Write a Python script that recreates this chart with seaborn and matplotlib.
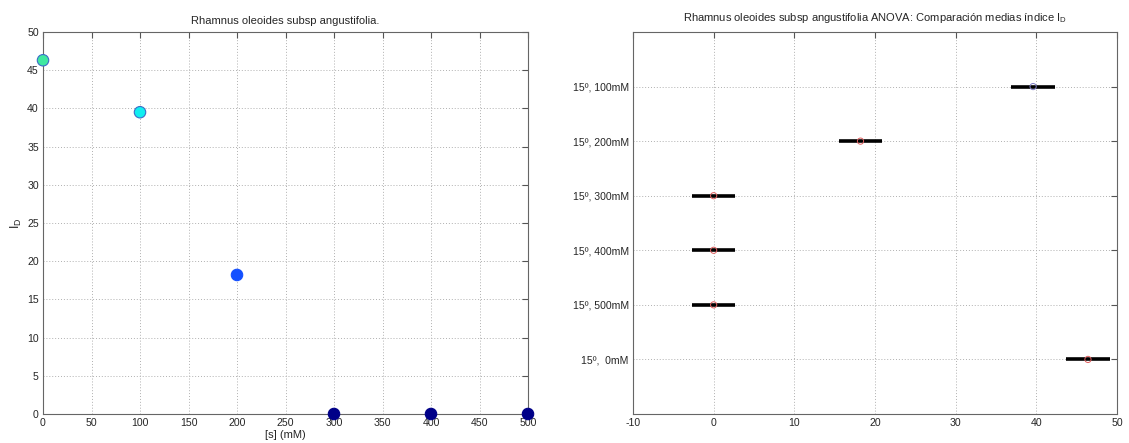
import numpy as np
import pandas as pd
import matplotlib
matplotlib.use("Agg")
import matplotlib.pyplot as plt
import seaborn as sns

sns.set_style("white")
plt.rcParams['font.family'] = ['Liberation Sans', 'DejaVu Sans']
plt.rcParams['axes.unicode_minus'] = False

# Left panel data
salt_mM = [0, 100, 200, 300, 400, 500]
id_values = [46.3, 39.5, 18.2, 0.0, 0.0, 0.0]
point_colors = ["#40e8a0", "#10eef0", "#1450ff", "#000088", "#000088", "#000088"]
edge_colors = ["#3a6cc8", "#3a6cc8", "#1450ff", "#000088", "#000088", "#000088"]

# Right panel data (ANOVA multiple comparison)
groups = ["15º,  0mM", "15º, 500mM", "15º, 400mM", "15º, 300mM", "15º, 200mM", "15º, 100mM"]
group_means = [46.4, 0.0, 0.0, 0.0, 18.2, 39.6]
half_width = [2.7, 2.7, 2.7, 2.7, 2.7, 2.7]
mean_marker_colors = ["#e06060", "#e06060", "#e06060", "#e06060", "#e06060", "#8080c8"]

fig = plt.figure(figsize=(11.29, 4.43), dpi=100)
ax1 = fig.add_axes([43/1129, 29/443, 485/1129, 382/443])
ax2 = fig.add_axes([633/1129, 29/443, 484/1129, 382/443])

gridkw = dict(color="#b0b0b0", linestyle=(0, (1, 2)), linewidth=0.7)

# Left
df1 = pd.DataFrame({"s": salt_mM, "ID": id_values, "c": [str(i) for i in range(len(salt_mM))]})
sns.scatterplot(data=df1, x="s", y="ID", hue="c", palette=point_colors, s=68,
                edgecolor=edge_colors, linewidth=0.8, legend=False, ax=ax1, clip_on=False, zorder=3)
ax1.set_xlim(0, 500)
ax1.set_ylim(0, 50)
ax1.set_xticks(np.arange(0, 501, 50))
ax1.set_yticks(np.arange(0, 51, 5))
ax1.set_xlabel("[s] (mM)", fontsize=8, labelpad=1)
ax1.set_ylabel("$\\mathregular{I_D}$", fontsize=9, labelpad=2)
ax1.set_title("Rhamnus oleoides subsp angustifolia.", fontsize=8, pad=6)
ax1.grid(True, **gridkw)

# Right
ypos = np.arange(1, len(groups) + 1)
df2 = pd.DataFrame({"mean": group_means, "y": ypos, "g": groups})
ax2.hlines(ypos, np.array(group_means) - np.array(half_width),
           np.array(group_means) + np.array(half_width), color="black", linewidth=2.6, zorder=3)
sns.scatterplot(data=df2, x="mean", y="y", hue="g", palette=mean_marker_colors, s=20,
                marker="o", legend=False, ax=ax2, zorder=4, linewidth=0.7)
for coll in ax2.collections[1:]:
    coll.set_facecolor("none")
    coll.set_edgecolor(mean_marker_colors)
ax2.set_xlim(-10, 50)
ax2.set_ylim(0, 7)
ax2.set_xticks(np.arange(-10, 51, 10))
ax2.set_yticks(ypos)
ax2.set_yticklabels(groups)
ax2.set_xlabel("")
ax2.set_ylabel("")
ax2.set_title("Rhamnus oleoides subsp angustifolia ANOVA: Comparación medias índice $\\mathregular{I_D}$",
              fontsize=8, pad=8)
ax2.grid(True, **gridkw)

for ax in (ax1, ax2):
    ax.tick_params(direction="in", length=4, labelsize=7.6, color="#555555", top=True, right=True,
                   labeltop=False, labelright=False, pad=3)
    for sp in ax.spines.values():
        sp.set_color("#666666")
        sp.set_linewidth(0.8)

fig.savefig("out.png", dpi=100, facecolor="white")
